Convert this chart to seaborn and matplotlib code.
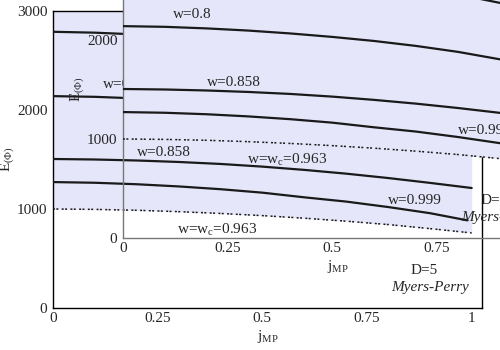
import numpy as np
import pandas as pd
import seaborn as sns
import matplotlib.pyplot as plt

# j_MP grid and energies E_(Phi)
j = [0.0, 0.1, 0.2, 0.3, 0.4, 0.5, 0.6, 0.7, 0.8, 0.9, 1.0]
e_top = [2790, 2781, 2763, 2736, 2700, 2655, 2600, 2535, 2460, 2375, 2280]
e_08 = [2140, 2133, 2117, 2095, 2066, 2031, 1990, 1940, 1880, 1805, 1720]
e_0858 = [1505, 1500, 1490, 1475, 1455, 1428, 1395, 1357, 1313, 1264, 1212]
j_0999 = [0.0, 0.1, 0.2, 0.3, 0.4, 0.5, 0.6, 0.7, 0.8, 0.9, 0.99]
e_0999 = [1272, 1265, 1250, 1228, 1200, 1165, 1118, 1075, 1020, 958, 885]
e_wc = [1000, 996, 987, 973, 955, 933, 907, 877, 843, 802, 758]

x_ticks = [0, 0.25, 0.5, 0.75, 1]
x_ticklabels = ["0", "0.25", "0.5", "0.75", "1"]
y_ticks = [0, 1000, 2000, 3000]

sns.set_theme(style="white")
plt.rcParams["font.family"] = ["Liberation Serif", "DejaVu Serif"]
plt.rcParams["mathtext.fontset"] = "custom"
plt.rcParams["mathtext.rm"] = "Liberation Serif"
plt.rcParams["mathtext.it"] = "Liberation Serif:italic"
plt.rcParams["mathtext.default"] = "regular"

fill = "#e6e6fb"
fs = 11


def draw(a, spine_col):
    a.fill_between(j, e_wc, 3000, color=fill, lw=0, zorder=1)
    for e in [e_top, e_08, e_0858]:
        sns.lineplot(x=j, y=e, ax=a, color="k", lw=1.6, zorder=3)
    sns.lineplot(x=j_0999, y=e_0999, ax=a, color="k", lw=1.6, zorder=3)
    sns.lineplot(x=j, y=e_wc, ax=a, color="k", lw=1.1, zorder=3,
                 linestyle=(0, (1.3, 0.9, 1.3, 2.2)))

    a.text(0.165, 2262, "w=0.8", fontsize=fs, ha="center", va="center")
    a.text(0.265, 1575, "w=0.858", fontsize=fs, ha="center", va="center")
    a.text(0.393, 793, "w=w$_c$=0.963", fontsize=fs, ha="center", va="center")
    a.text(0.865, 1088, "w=0.999", fontsize=fs, ha="center", va="center")
    a.text(0.886, 374, "D=5", fontsize=fs, ha="center", va="center")
    a.text(0.9, 212, "Myers-Perry", fontsize=fs, ha="center", va="center",
           style="italic")

    a.set_xlim(0, 1.0246)
    a.set_ylim(0, 3000)
    a.set_xticks(x_ticks)
    a.set_xticklabels(x_ticklabels)
    a.set_yticks(y_ticks)
    a.tick_params(axis="both", direction="in", length=3, color="#555555",
                  labelsize=fs)
    a.tick_params(axis="x", pad=3)
    a.tick_params(axis="y", pad=4)
    a.set_xlabel("j$_{MP}$", fontsize=fs, labelpad=2)
    a.set_ylabel("E$_{(\\Phi)}$", fontsize=fs, labelpad=1)
    for s in a.spines.values():
        s.set_color(spine_col)
        s.set_linewidth(1)


fig = plt.figure(figsize=(5, 3.5), dpi=100)
ax = fig.add_axes([0.106, 0.12, 0.858, 0.8486])
draw(ax, "black")

# second copy, shifted up and right and partly outside the figure
ins = fig.add_axes([0.246, 0.32, 0.858, 0.8486])
ins.set_facecolor("none")
draw(ins, "#777777")

fig.savefig("out.png", dpi=100)
